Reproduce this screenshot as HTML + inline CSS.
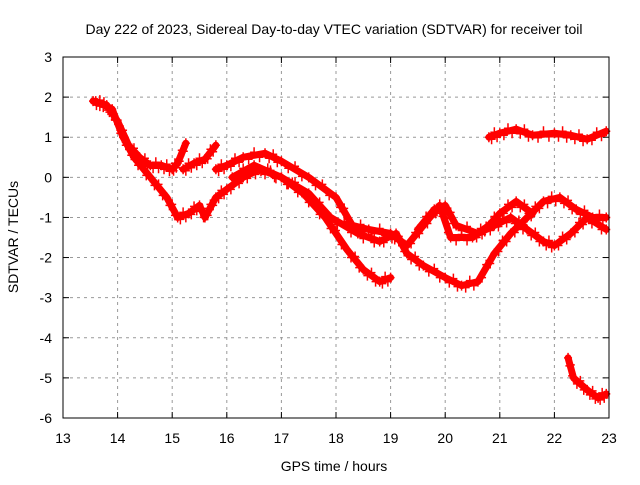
<!DOCTYPE html>
<html><head><meta charset="utf-8"><style>
body{margin:0;background:#fff}
svg{font-family:"Liberation Sans",sans-serif;font-size:14px}
</style></head><body>
<svg id="c" width="640" height="480">
<text x="334" y="34" text-anchor="middle">Day 222 of 2023, Sidereal Day-to-day VTEC variation (SDTVAR) for receiver toil</text>
<text x="334" y="471" text-anchor="middle">GPS time / hours</text>
<text transform="translate(18,237) rotate(-90)" text-anchor="middle">SDTVAR / TECUs</text>
<g id="grid"></g><g id="ticks"></g><g id="marks"></g>
<rect x="63" y="57" width="546" height="361" fill="none" stroke="#000" stroke-width="1"/>
</svg>
<script>
const xTicks=[13,14,15,16,17,18,19,20,21,22,23];
const yTicks=[3,2,1,0,-1,-2,-3,-4,-5,-6];
const sA_x=[13.55,13.8,14.0,14.2,14.4,14.6,14.8,15.0,15.1,15.25];
const sA_y=[1.9,1.8,1.4,0.8,0.5,0.3,0.3,0.2,0.35,0.85];
const sB_x=[13.6,13.9,14.1,14.3,14.6,14.9,15.1,15.3,15.5,15.6,15.8,16.0,16.3,16.6,17.0,17.4,17.8,18.2,18.5,18.8,19.0];
const sB_y=[1.9,1.7,1.0,0.5,0.0,-0.5,-1.0,-0.9,-0.7,-1.0,-0.5,-0.3,0.0,0.2,0.0,-0.4,-1.0,-1.8,-2.3,-2.6,-2.5];
const sH_x=[15.2,15.4,15.6,15.8];
const sH_y=[0.2,0.35,0.45,0.8];
const sC_x=[15.8,16.0,16.3,16.7,17.0,17.5,18.0,18.3,18.6,19.0,19.3,19.6,19.9,20.1,20.5,20.8,21.0,21.3,21.6];
const sC_y=[0.2,0.3,0.5,0.6,0.4,0.0,-0.5,-1.2,-1.3,-1.4,-1.7,-1.2,-0.7,-1.5,-1.5,-1.2,-0.9,-0.6,-0.9];
const sD_x=[16.1,16.5,17.0,17.5,17.9,18.4,18.8,19.1,19.3,19.6,20.0,20.3,20.6,20.9,21.2,21.5,21.8,22.1,22.4,22.7,22.95];
const sD_y=[0.0,0.3,0.0,-0.4,-1.0,-1.4,-1.6,-1.4,-1.9,-2.2,-2.5,-2.7,-2.6,-1.9,-1.4,-1.0,-0.6,-0.5,-0.8,-1.0,-1.0];
const sE_x=[19.5,19.8,20.0,20.2,20.6,20.9,21.2,21.5,21.8,22.0,22.3,22.6,22.95];
const sE_y=[-1.3,-0.8,-0.7,-1.2,-1.4,-1.2,-1.0,-1.3,-1.6,-1.7,-1.4,-1.0,-1.3];
const sF_x=[20.8,21.0,21.3,21.6,22.0,22.3,22.6,22.95];
const sF_y=[1.0,1.1,1.2,1.05,1.1,1.05,0.95,1.15];
const sG_x=[22.25,22.35,22.6,22.8,22.95];
const sG_y=[-4.5,-5.0,-5.3,-5.5,-5.4];
const series=[[sA_x,sA_y],[sB_x,sB_y],[sH_x,sH_y],[sC_x,sC_y],[sD_x,sD_y],[sE_x,sE_y],[sF_x,sF_y],[sG_x,sG_y]];
const X=v=>63+(v-13)*54.6, Y=v=>57+(3-v)*40.11;
const NS='http://www.w3.org/2000/svg';
function mk(t,a,p){const e=document.createElementNS(NS,t);for(const k in a)e.setAttribute(k,a[k]);p.appendChild(e);return e;}
const g=document.getElementById('grid'),tk=document.getElementById('ticks'),m=document.getElementById('marks');
xTicks.forEach(v=>{const x=X(v);
 if(v>13&&v<23){const l=mk('line',{x1:x,y1:57,x2:x,y2:418,stroke:'#999','stroke-dasharray':'3,4'},g);
 
 }
 mk('line',{x1:x,y1:418,x2:x,y2:412,stroke:'#000'},tk);mk('line',{x1:x,y1:57,x2:x,y2:63,stroke:'#000'},tk);
 const t=mk('text',{x:x,y:443,'text-anchor':'middle'},tk);t.textContent=v;
 
 });
yTicks.forEach(v=>{const y=Y(v);
 if(v<3&&v>-6){const l=mk('line',{x1:63,y1:y,x2:609,y2:y,stroke:'#999','stroke-dasharray':'3,4'},g);
 
 }
 mk('line',{x1:63,y1:y,x2:69,y2:y,stroke:'#000'},tk);mk('line',{x1:603,y1:y,x2:609,y2:y,stroke:'#000'},tk);
 const t=mk('text',{x:52,y:y+5,'text-anchor':'end'},tk);t.textContent=v;
 
 });
series.forEach((s,i)=>{const [xs,ys]=s;
 const pts=xs.map((x,j)=>X(x)+','+Y(ys[j])).join(' ');
 const pl=mk('polyline',{points:pts,fill:'none',stroke:'#f00','stroke-width':7,'stroke-linejoin':'round','stroke-linecap':'round'},m);
 
 
 let d='';
 for(let j=0;j<xs.length;j++){
  const px=X(xs[j]),py=Y(ys[j]);
  d+=`M${px-4},${py}h8M${px},${py-5}v10`;
  if(j<xs.length-1){const qx=X(xs[j+1]),qy=Y(ys[j+1]);
   for(let k=1;k<4;k++){const ax=px+(qx-px)*k/4,ay=py+(qy-py)*k/4+((k%2)?3:-3);
    d+=`M${ax-4},${ay}h8M${ax},${ay-5}v10`;}}
 }
 const p=mk('path',{d:d,stroke:'#f00','stroke-width':1.5,fill:'none'},m);
 
 
});
</script>
</body></html>
